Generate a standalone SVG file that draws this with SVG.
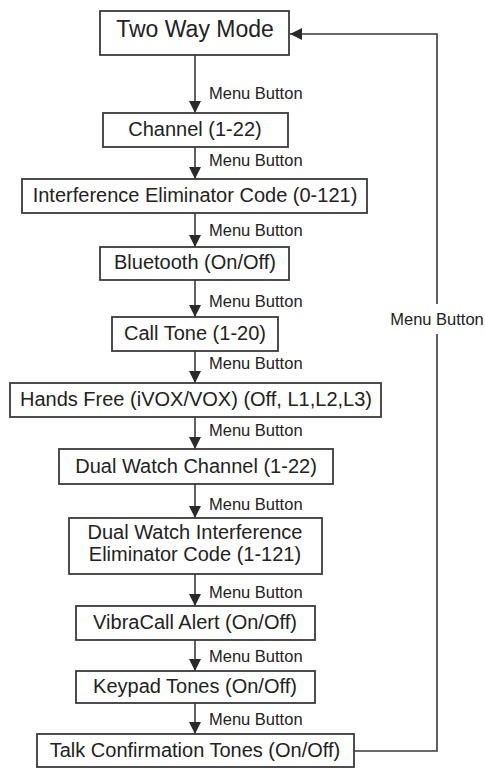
<svg xmlns="http://www.w3.org/2000/svg" width="485" height="770" viewBox="0 0 485 770">
<style>
.box{fill:#fff;stroke:#3a3a3a;stroke-width:1.8}
.t{font-family:"Liberation Sans",Arial,sans-serif;font-size:20px;fill:#222;text-anchor:middle}
.lbl{font-family:"Liberation Sans",Arial,sans-serif;font-size:16.5px;fill:#222}
.ln{fill:none;stroke:#3a3a3a;stroke-width:1.6}
</style>
<defs>
<marker id="ah" markerWidth="12" markerHeight="12" refX="12" refY="6" orient="auto" markerUnits="userSpaceOnUse">
<path d="M0,0 L12,6 L0,12 z" fill="#2a2a2a"/>
</marker>
</defs>
<rect width="485" height="770" fill="#fff"/>
<g id="connectors">
<line class="ln" x1="195" y1="55" x2="195" y2="113" marker-end="url(#ah)"/>
<line class="ln" x1="195" y1="147" x2="195" y2="179" marker-end="url(#ah)"/>
<line class="ln" x1="195" y1="213" x2="195" y2="247" marker-end="url(#ah)"/>
<line class="ln" x1="195" y1="280" x2="195" y2="317" marker-end="url(#ah)"/>
<line class="ln" x1="195" y1="351" x2="195" y2="383" marker-end="url(#ah)"/>
<line class="ln" x1="195" y1="417" x2="195" y2="449" marker-end="url(#ah)"/>
<line class="ln" x1="195" y1="484" x2="195" y2="518" marker-end="url(#ah)"/>
<line class="ln" x1="195" y1="574" x2="195" y2="606" marker-end="url(#ah)"/>
<line class="ln" x1="195" y1="640" x2="195" y2="671" marker-end="url(#ah)"/>
<line class="ln" x1="195" y1="703" x2="195" y2="734" marker-end="url(#ah)"/>
<polyline class="ln" points="354,751 437,751 437,334"/>
<polyline class="ln" points="437,304 437,34 290,34" marker-end="url(#ah)"/>
<text class="lbl" x="209" y="99">Menu Button</text>
<text class="lbl" x="209" y="166">Menu Button</text>
<text class="lbl" x="209" y="236">Menu Button</text>
<text class="lbl" x="209" y="307">Menu Button</text>
<text class="lbl" x="209" y="369">Menu Button</text>
<text class="lbl" x="209" y="436">Menu Button</text>
<text class="lbl" x="209" y="510">Menu Button</text>
<text class="lbl" x="209" y="598">Menu Button</text>
<text class="lbl" x="209" y="662">Menu Button</text>
<text class="lbl" x="209" y="725">Menu Button</text>
<text class="lbl" x="437" y="325" text-anchor="middle">Menu Button</text>
</g>
<g id="two-way-mode"><rect class="box" x="100" y="11" width="189" height="44"/><text class="t" x="195" y="37" style="font-size:23px">Two Way Mode</text></g>
<g id="channel"><rect class="box" x="103" y="113" width="185" height="34"/><text class="t" x="195" y="136">Channel (1-22)</text></g>
<g id="interference"><rect class="box" x="22" y="179" width="345" height="34"/><text class="t" x="195" y="202">Interference Eliminator Code (0-121)</text></g>
<g id="bluetooth"><rect class="box" x="100" y="247" width="189" height="33"/><text class="t" x="195" y="269">Bluetooth (On/Off)</text></g>
<g id="call-tone"><rect class="box" x="112" y="317" width="166" height="34"/><text class="t" x="195" y="340">Call Tone (1-20)</text></g>
<g id="hands-free"><rect class="box" x="10" y="383" width="371" height="34"/><text class="t" x="196" y="406">Hands Free (iVOX/VOX) (Off, L1,L2,L3)</text></g>
<g id="dual-watch-channel"><rect class="box" x="59" y="449" width="274" height="35"/><text class="t" x="196" y="473">Dual Watch Channel (1-22)</text></g>
<g id="dual-watch-interference"><rect class="box" x="69" y="518" width="253" height="56"/><text class="t" x="195" y="539">Dual Watch Interference</text><text class="t" x="195" y="561">Eliminator Code (1-121)</text></g>
<g id="vibracall"><rect class="box" x="76" y="606" width="239" height="34"/><text class="t" x="195" y="629">VibraCall Alert (On/Off)</text></g>
<g id="keypad-tones"><rect class="box" x="76" y="671" width="239" height="32"/><text class="t" x="195" y="693">Keypad Tones (On/Off)</text></g>
<g id="talk-confirmation"><rect class="box" x="37" y="734" width="317" height="33"/><text class="t" x="195" y="757">Talk Confirmation Tones (On/Off)</text></g>
</svg>
